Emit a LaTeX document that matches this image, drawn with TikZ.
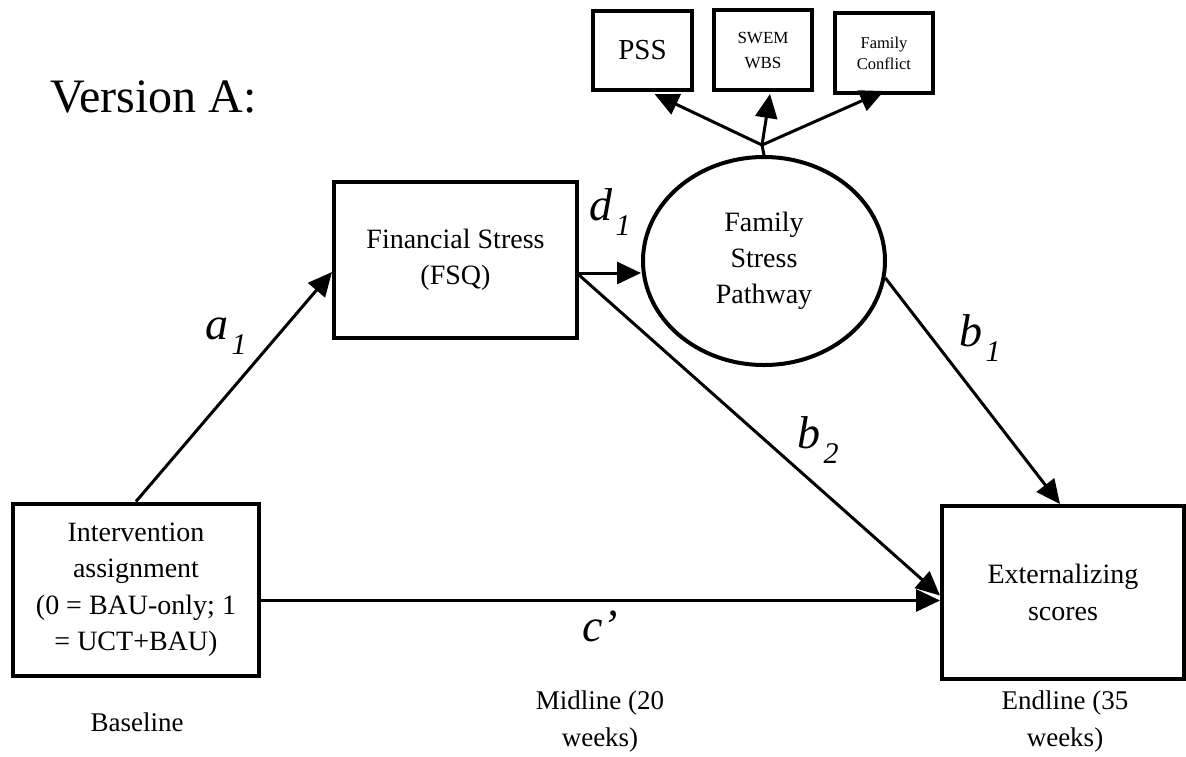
\documentclass[tikz,border=0pt]{standalone}
\usepackage{fontspec}
\setmainfont{Liberation Serif}
\usetikzlibrary{arrows.meta,shapes.geometric}
\newcommand{\pathlab}[2]{{\fontsize{46}{46}\selectfont\itshape #1}\kern3pt\raisebox{-15pt}{\fontsize{30}{30}\selectfont\itshape #2}}
\tikzset{
  boxnode/.style={draw, line width=4pt, rectangle, inner sep=0pt, align=center, font=\fontsize{28}{36.5}\selectfont},
  ovalnode/.style={draw, line width=4pt, ellipse, inner sep=0pt, align=center, font=\fontsize{28}{36}\selectfont},
  conn/.style={line width=3pt, -{Triangle[length=24pt,width=22pt]}},
  plain/.style={line width=3pt},
  timelab/.style={align=center, font=\fontsize{27}{37}\selectfont}
}
\begin{document}
\begin{tikzpicture}[x=1pt,y=-1pt]
\useasboundingbox (0,0) rectangle (1186,756);
% title
\node[anchor=base west, inner sep=0pt, font=\fontsize{48}{48}\selectfont] (title) at (50,112) {Version A:};
% nodes
\node[boxnode, minimum width=246pt, minimum height=172pt] (int) at (136,589.5) {Intervention\\assignment\\(0 = BAU-only; 1\\= UCT+BAU)};
\node[boxnode, minimum width=243pt, minimum height=156pt] (fs) at (455.5,260) {Financial Stress\\(FSQ)};
\node[boxnode, minimum width=242pt, minimum height=173pt] (ext) at (1063,592.5) {Externalizing\\scores};
\node[ovalnode, minimum width=242pt, minimum height=208pt] (fsp) at (764,261) {Family\\Stress\\Pathway};
\node[boxnode, minimum width=99pt, minimum height=79pt, font=\fontsize{29}{29}\selectfont] (pss) at (642.5,50.5) {PSS};
\node[boxnode, minimum width=98pt, minimum height=80pt, font=\fontsize{17}{25}\selectfont] (swem) at (763,50) {SWEM\\WBS};
\node[boxnode, minimum width=98pt, minimum height=80pt, font=\fontsize{16.5}{21}\selectfont] (fc) at (884,53) {Family\\Conflict};
\coordinate (J) at (762,145);
% connectors
\draw[conn] (int.north) -- ([yshift=-12pt]fs.west);
\draw[conn] ([yshift=-13pt]fs.east) -- ([yshift=-13pt]fs.east -| fsp.west);
\draw[conn] ([yshift=-15pt]fs.east) -- ([yshift=-3pt]ext.west);
\draw[conn] ([yshift=-11pt]int.east) -- ([yshift=-11pt]int.east -| ext.west);
\draw[conn] (fsp.-8) -- ([xshift=-3pt]ext.north);
\draw[plain] (fsp.north) -- (J);
\draw[conn] (J) -- ([xshift=12pt,yshift=-2pt]pss.south);
\draw[conn] (J) -- ([xshift=7pt,yshift=-2pt]swem.south);
\draw[conn] (J) -- ([yshift=4pt]fc.south);
% path labels
\node[inner sep=0pt] (la1) at (226,336) {\pathlab{a}{1}};
\node[inner sep=0pt] (ld1) at (610,212) {\pathlab{d}{1}};
\node[inner sep=0pt] (lb1) at (980,338) {\pathlab{b}{1}};
\node[inner sep=0pt] (lb2) at (818,440) {\pathlab{b}{2}};
\node[inner sep=0pt, font=\fontsize{46}{46}\selectfont\itshape] (lc) at (600,626) {c’};
% time labels
\node[timelab] (base) at (137,722) {Baseline};
\node[timelab] (mid) at (600,721) {Midline (20\\weeks)};
\node[timelab] (end) at (1065,721) {Endline (35\\weeks)};
\end{tikzpicture}
\end{document}
